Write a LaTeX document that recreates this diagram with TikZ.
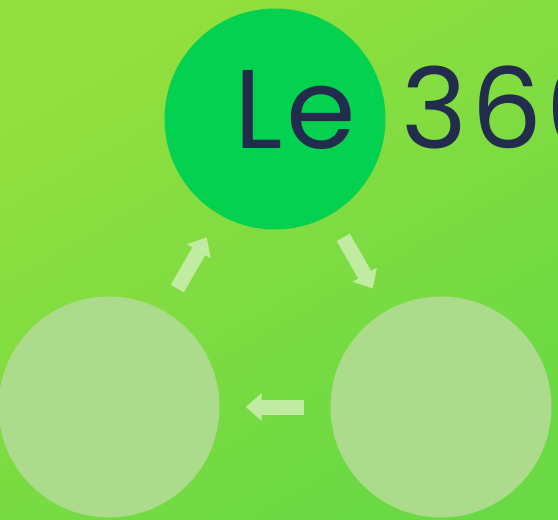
\documentclass[tikz,border=0pt]{standalone}
\usepackage{fontspec}
\setmainfont{Poppins}
\newfontfamily\titlefont[LetterSpace=3.5, WordSpace=1.35]{Poppins}
\usetikzlibrary{arrows.meta}
\definecolor{bgtop}{HTML}{93DF3D}
\definecolor{bgbottom}{HTML}{6AD944}
\definecolor{topgreen}{HTML}{05D150}
\definecolor{palegreen}{HTML}{ABDB8B}
\definecolor{arrowgreen}{HTML}{C0EBA0}
\definecolor{navy}{HTML}{222D4D}
\begin{document}
\begin{tikzpicture}[
x=1pt,
y=-1pt,
bubble/.style={
  circle,
  minimum size=221pt,
  inner sep=0pt
  },
flow/.style={
  draw=arrowgreen,
  line width=15pt,
  -{Triangle[width=27pt,length=16pt]},
  shorten <=26pt,
  shorten >=26pt
  },
>=latex
]
\useasboundingbox (0,0) rectangle (558,520);
\clip (0,0) rectangle (558,520);
\shade[top color=bgtop, bottom color=bgbottom, shading angle=30] (0,0) rectangle (558,520);

\node[bubble, fill=topgreen] (top) at (275,119) {};
\node[bubble, fill=palegreen] (right) at (441,407) {};
\node[bubble, fill=palegreen] (left) at (109,407) {};

\node[anchor=base west, inner sep=0pt, text=navy, font=\titlefont\fontsize{112}{112}\selectfont] (title) at (234,148) {Le 360};

\foreach \a/\b in {left/top, top/right, right/left}
  \draw[flow] (\a) -- (\b);

\end{tikzpicture}
\end{document}
